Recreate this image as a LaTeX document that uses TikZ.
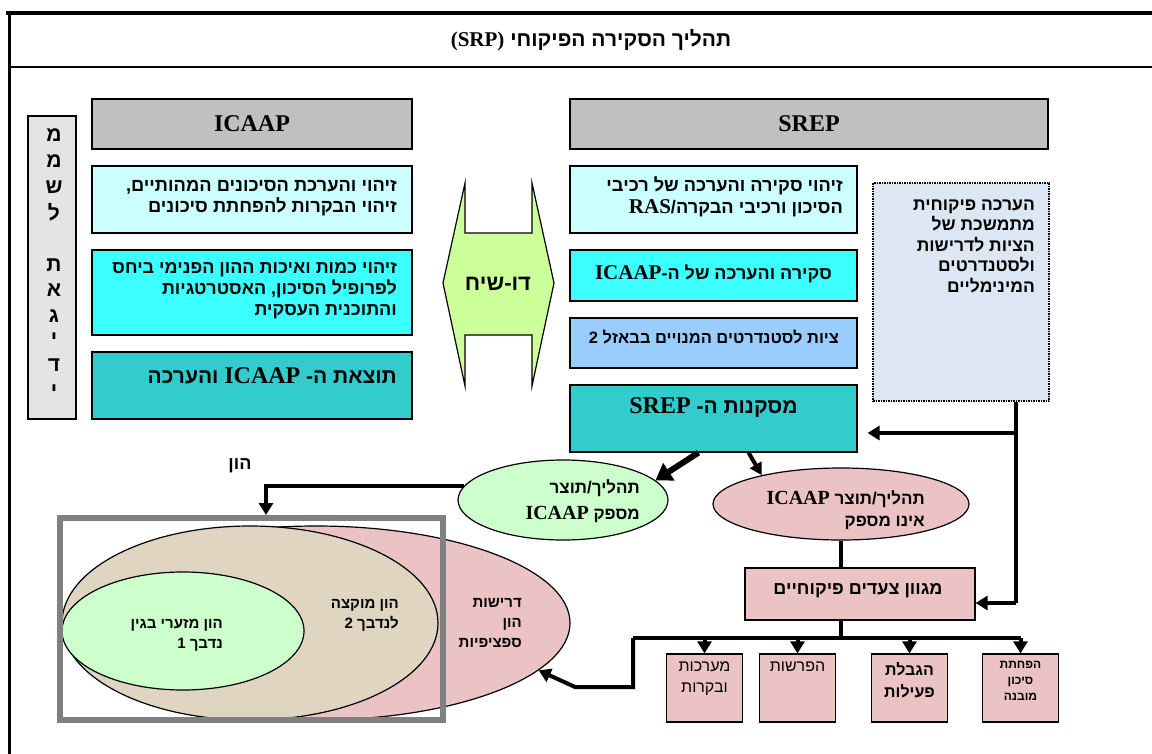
\documentclass[tikz,border=0pt]{standalone}
\usepackage{fontspec}
\setmainfont{Liberation Serif}
\newfontfamily\heb[Script=Hebrew]{Liberation Sans}
\newfontfamily\latf{Liberation Serif}
\TeXXeTstate=1
\usetikzlibrary{arrows.meta,shapes.geometric}
\newcommand\RL[1]{\beginR#1\endR}
\newcommand\LT[1]{\beginL{\latf\bfseries #1}\endL}
\newcommand\fsz[2]{\fontsize{#1}{#2}\selectfont}
\definecolor{hdr}{HTML}{C0C0C0}
\definecolor{cyanL}{HTML}{CCFFFF}
\definecolor{cyanB}{HTML}{3CFFFF}
\definecolor{tealB}{HTML}{33CCCC}
\definecolor{blueL}{HTML}{99CCFF}
\definecolor{dlg}{HTML}{CCFF99}
\definecolor{grnL}{HTML}{CCFFCC}
\definecolor{pinkT}{HTML}{EBC3C5}
\definecolor{beigeT}{HTML}{DFD5C0}
\definecolor{dotf}{HTML}{DDE7F3}
\definecolor{colg}{HTML}{E4E4E4}
\definecolor{capgray}{HTML}{808080}
\begin{document}
\begin{tikzpicture}[x=1pt,y=-1pt,
  box/.style={draw, line width=1.2pt, inner sep=0pt},
  txt/.style={inner sep=0pt, align=right, anchor=east},
  ln/.style={line width=4pt},
  arr/.style={line width=4pt, -{Triangle[length=12pt,width=14pt]}},
]
\useasboundingbox (0,0) rectangle (1152,753);
\fill[white] (0,0) rectangle (1152,753);
% frame
\draw[line width=4pt] (6,13) -- (1160,13);
\draw[line width=3pt] (9,11) -- (9,760);
\draw[line width=1.5pt] (9,67) -- (1160,67);
\node[font=\heb\bfseries\fsz{21}{25}] (title) at (591,40) {\RL{תהליך הסקירה הפיקוחי \LT{(SRP)}}};

% headers
\node[box, fill=hdr, minimum width=320pt, minimum height=50pt] (icaapH) at (252,124) {\latf\bfseries\fsz{24}{28}ICAAP};
\node[box, fill=hdr, minimum width=478pt, minimum height=50pt] (srepH) at (809,124) {\latf\bfseries\fsz{24}{28}SREP};

% ICAAP column
\node[box, fill=cyanL, minimum width=320pt, minimum height=67pt] (i1) at (252,199.5) {};
\node[txt, font=\heb\bfseries\fsz{18.3}{21}] (i1t) at (397,198) {\RL{זיהוי והערכת הסיכונים המהותיים,}\\\RL{זיהוי הבקרות להפחתת סיכונים}};
\node[box, fill=cyanB, minimum width=320pt, minimum height=85pt] (i2) at (252,292.5) {};
\node[txt, font=\heb\bfseries\fsz{18}{21}] (i2t) at (397,291) {\RL{זיהוי כמות ואיכות ההון הפנימי ביחס}\\\RL{לפרופיל הסיכון, האסטרטגיות}\\\RL{והתוכנית העסקית}};
\node[box, fill=tealB, minimum width=320pt, minimum height=67pt] (i3) at (252,385.5) {};
\node[txt, font=\heb\bfseries\fsz{21}{25}] (i3t) at (397,376) {\RL{תוצאת ה- {\fsz{24}{28}\LT{ICAAP}} והערכה}};

% governance column
\node[box, fill=colg, line width=1.5pt, minimum width=48pt, minimum height=303pt] (col) at (52,267.5) {};
\foreach \l/\yy [count=\k] in {מ/135,מ/161,ש/187,ל/212,ת/265,א/290,ג/316,י/339,ד/365,י/391}
  \node[font=\heb\bfseries\fsz{21}{24}] (c\k) at (54,\yy) {\l};

% dialogue
\draw[fill=dlg, line width=1.2pt] (465,183) -- (465,233) -- (532,233) -- (532,183) -- (554,283) -- (532,386) -- (532,335) -- (465,335) -- (465,386) -- (443,283) -- cycle;
\node[font=\heb\bfseries\fsz{22}{26}] (dia) at (498,284) {\RL{דו-שיח}};

% SREP column
\node[box, fill=cyanL, minimum width=287pt, minimum height=67pt] (s1) at (713.5,199.5) {};
\node[txt, font=\heb\bfseries\fsz{18.2}{22}] (s1t) at (843,197) {\RL{זיהוי סקירה והערכה של רכיבי}\\\RL{הסיכון ורכיבי הבקרה/{\fsz{21}{22}\LT{RAS}}}};
\node[box, fill=cyanB, minimum width=287pt, minimum height=51pt] (s2) at (713.5,275.5) {};
\node[font=\heb\bfseries\fsz{18}{21}] (s2t) at (713.5,274) {\RL{סקירה והערכה של ה-{\fsz{21}{22}\LT{ICAAP}}}};
\node[box, fill=blueL, minimum width=287pt, minimum height=50pt] (s3) at (713.5,343) {};
\node[font=\heb\bfseries\fsz{16.5}{18}] (s3t) at (714,337) {\RL{ציות לסטנדרטים המנויים בבאזל 2}};
\node[box, fill=tealB, minimum width=287pt, minimum height=67pt] (s4) at (713.5,418.5) {};
\node[font=\heb\bfseries\fsz{21}{25}] (s4t) at (713.5,408) {\RL{מסקנות ה- {\fsz{24}{28}\LT{SREP}}}};

% dotted box
\node[draw, densely dotted, line width=1.5pt, fill=dotf, minimum width=176pt, minimum height=218pt, inner sep=0pt] (dot) at (961,292) {};
\node[txt, font=\heb\bfseries\fsz{17.5}{20.5}] (dott) at (1035,246) {\RL{הערכה פיקוחית}\\\RL{מתמשכת של}\\\RL{הציות לדרישות}\\\RL{ולסטנדרטים}\\\RL{המינימליים}};

% ellipses
\node[ellipse, draw, line width=1.2pt, fill=grnL, minimum width=210pt, minimum height=80pt, inner sep=0pt] (ellG) at (563,500) {};
\node[txt, font=\heb\bfseries\fsz{17}{26}] (ellGt) at (640,501) {\RL{תהליך/תוצר}\\\RL{מספק {\fsz{20}{24}\LT{ICAAP}}}};
\node[ellipse, draw, line width=1.2pt, fill=pinkT, minimum width=256pt, minimum height=72pt, inner sep=0pt] (ellP) at (841,504) {};
\node[txt, font=\heb\bfseries\fsz{17}{22}] (ellPt) at (925,510) {\RL{תהליך/תוצר {\fsz{20}{24}\LT{ICAAP}}}\\\RL{אינו מספק}};

% measures
\node[box, fill=pinkT, minimum width=230pt, minimum height=52pt] (mgv) at (860,594) {};
\node[font=\heb\bfseries\fsz{18}{22}] (mgvt) at (858,591) {\RL{מגוון צעדים פיקוחיים}};
\node[box, fill=pinkT, minimum width=76pt, minimum height=68pt] (b1) at (704.5,688) {};
\node[box, fill=pinkT, minimum width=76pt, minimum height=68pt] (b2) at (797.5,688) {};
\node[box, fill=pinkT, minimum width=76pt, minimum height=68pt] (b3) at (909.5,688) {};
\node[box, fill=pinkT, minimum width=76pt, minimum height=68pt] (b4) at (1020.5,688) {};
\node[font=\heb\fsz{16}{21}, align=center, anchor=north, inner sep=0pt] (b1t) at (704.5,662) {\RL{מערכות}\\\RL{ובקרות}};
\node[font=\heb\fsz{16}{21}, align=center, anchor=north, inner sep=0pt] (b2t) at (797.5,662) {\RL{הפרשות}};
\node[font=\heb\bfseries\fsz{16}{22}, align=center, anchor=north, inner sep=0pt] (b3t) at (909.5,662) {\RL{הגבלת}\\\RL{פעילות}};
\node[font=\heb\bfseries\fsz{12}{16}, align=center, anchor=north, inner sep=0pt] (b4t) at (1020.5,661) {\RL{הפחתת}\\\RL{סיכון}\\\RL{מובנה}};

% capital diagram
\node[ellipse, draw, line width=1.2pt, fill=pinkT, minimum width=508pt, minimum height=194pt, inner sep=0pt] (pinkBig) at (316,623) {};
\node[ellipse, draw, line width=1.2pt, fill=beigeT, minimum width=376pt, minimum height=194pt, inner sep=0pt] (beige) at (250,623) {};
\node[ellipse, draw, line width=1.2pt, fill=grnL, minimum width=242pt, minimum height=118pt, inner sep=0pt] (grnS) at (183,631) {};
\node[txt, font=\heb\bfseries\fsz{15}{20}] (grnSt) at (223,635) {\RL{הון מזערי בגין}\\\RL{נדבך 1}};
\node[txt, font=\heb\bfseries\fsz{15}{20}] (beiget) at (399,615) {\RL{הון מוקצה}\\\RL{לנדבך 2}};
\node[txt, font=\heb\bfseries\fsz{15}{20}] (pinkt) at (522,623) {\RL{דרישות}\\\RL{הון}\\\RL{ספציפיות}};
\node[draw=capgray, line width=6pt, minimum width=383pt, minimum height=202pt, inner sep=0pt] (capbox) at (251.5,619) {};
\node[font=\heb\bfseries\fsz{18}{22}] (hon) at (240,466) {\RL{הון}};

% connectors
\coordinate (j1) at (1016,433);
\coordinate (j2) at (1016,603);
\coordinate (busL) at (633,638);
\coordinate (busR) at (1020.5,638);
\draw[ln] (j1 |- dot.south) -- (j2);
\draw[arr, shorten >=10pt] (j1) -- (j1 -| s4.east);
\draw[arr] (j2) -- (j2 -| mgv.east);
\draw[line width=6pt, -{Triangle[length=16pt,width=20pt]}] ([xshift=-15pt]s4.south) -- (ellG.12);
\draw[line width=4pt, -{Triangle[length=12pt,width=13pt]}] ([xshift=35pt]s4.south) -- (ellP.160);
\draw[arr] (ellG.172) -| ([xshift=14.5pt]capbox.north);
\draw[ln] (ellP.south) -- (ellP.south |- mgv.north);
\draw[ln] (ellP.south |- mgv.south) -- (ellP.south |- busL);
\draw[ln] (busL) -- (busR);
\foreach \b in {b1,b2,b3,b4} \draw[arr] (\b.north |- busL) -- (\b.north);
\draw[arr] (busL) -- ++(0,49) -- ++(-58,0) -- (pinkBig.-12.5);
\end{tikzpicture}
\end{document}
